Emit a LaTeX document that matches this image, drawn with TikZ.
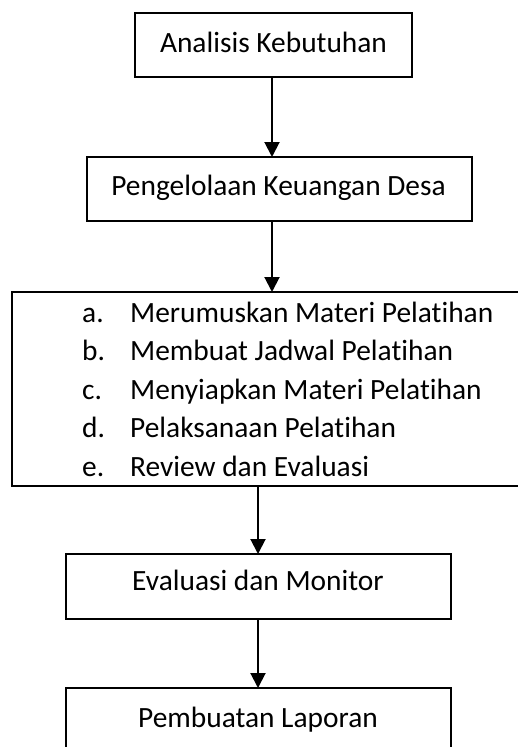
\documentclass[tikz,border=0pt]{standalone}
\usepackage{fontspec}
\setmainfont[Ligatures=NoCommon]{Carlito}
\usetikzlibrary{arrows.meta}
\begin{document}
\begin{tikzpicture}[x=1pt,y=-1pt,
  boxnode/.style={draw=black, line width=2pt, inner sep=0pt, outer sep=0pt},
  txt/.style={anchor=base, inner sep=0pt, font=\fontsize{29.4}{35}\selectfont},
  ltxt/.style={anchor=base west, inner sep=0pt, font=\fontsize{29.4}{35}\selectfont},
  arr/.style={line width=2pt, -{Triangle[width=15pt,length=15pt]}}]
\useasboundingbox (0,0) rectangle (518,747);
% boxes
\node[boxnode, minimum width=277pt, minimum height=64pt] (b1) at (273.5,45) {};
\node[boxnode, minimum width=385pt, minimum height=64pt] (b2) at (279.5,189) {};
\node[boxnode, minimum width=540pt, minimum height=194pt] (b3) at (282,389) {};
\node[boxnode, minimum width=385pt, minimum height=65pt] (b4) at (258.5,586.5) {};
\node[boxnode, minimum width=385pt, minimum height=80pt] (b5) at (258.5,728) {};
% texts
\node[txt] (t1) at (273.5,52) {Analisis Kebutuhan};
\node[txt] (t2) at (278.5,195) {Pengelolaan Keuangan Desa};
\node[txt] (t4) at (258,590) {Evaluasi dan Monitor};
\node[txt] (t5) at (258,727) {Pembuatan Laporan};
% list
\node[ltxt] (la) at (82,322) {a.};
\node[ltxt] (ta) at (130,322) {Merumuskan Materi Pelatihan};
\node[ltxt] (lb) at (82,360.5) {b.};
\node[ltxt] (tb) at (130,360.5) {Membuat Jadwal Pelatihan};
\node[ltxt] (lc) at (82,399) {c.};
\node[ltxt] (tc) at (130,399) {Menyiapkan Materi Pelatihan};
\node[ltxt] (ld) at (82,437.5) {d.};
\node[ltxt] (td) at (130,437.5) {Pelaksanaan Pelatihan};
\node[ltxt] (le) at (82,476) {e.};
\node[ltxt] (te) at (130,476) {Review dan Evaluasi};
% arrows
\coordinate (c1) at (272,0);
\coordinate (c3) at (258,0);
\draw[arr] (b1.south -| c1) -- (b2.north -| c1);
\draw[arr] (b2.south -| c1) -- (b3.north -| c1);
\draw[arr] (b3.south -| c3) -- (b4.north -| c3);
\draw[arr] (b4.south -| c3) -- (b5.north -| c3);
\end{tikzpicture}
\end{document}
